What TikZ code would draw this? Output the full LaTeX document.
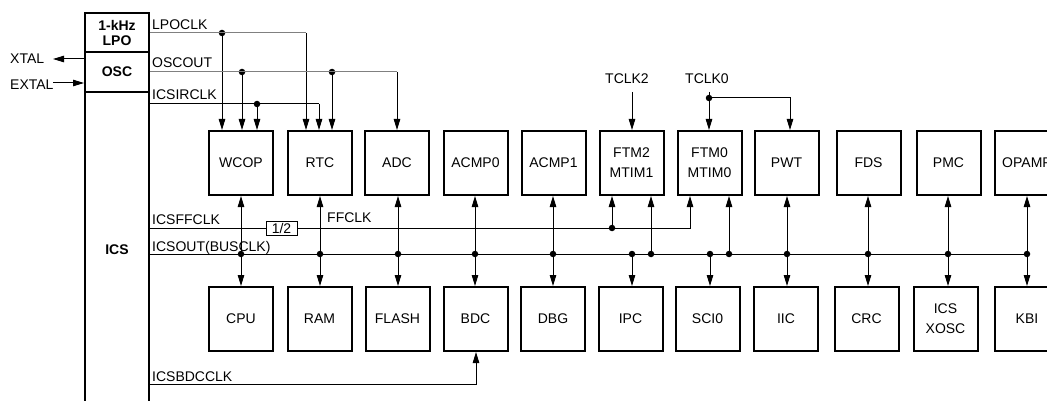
\documentclass[tikz,border=0pt]{standalone}
\usepackage{fontspec}
\setmainfont{Liberation Sans}
\usetikzlibrary{arrows.meta}
\begin{document}
\begin{tikzpicture}[x=1pt,y=-1pt,
  every node/.style={font=\fontsize{14}{20}\selectfont},
  blk/.style={draw, line width=2pt, minimum width=64pt, minimum height=64pt, inner sep=0pt, align=center},
  icsbox/.style={draw, line width=2pt, minimum width=64pt, inner sep=0pt, align=center, font=\fontsize{14}{15.6}\selectfont\bfseries},
  halfbox/.style={draw, line width=1pt, minimum width=31pt, minimum height=14pt, inner sep=0pt},
  lbl/.style={inner sep=0pt, anchor=base west},
  sig/.style={line width=1pt},
  gsig/.style={line width=1pt, draw=gray},
  arr/.style={-{Triangle[length=11pt,width=6.5pt]}},
  darr/.style={{Triangle[length=11pt,width=6.5pt]}-{Triangle[length=11pt,width=6.5pt]}},
  jdot/.style={circle, fill, inner sep=0pt, minimum size=6.5pt},
]
\useasboundingbox (0,0) rectangle (1047,401);
\clip (0,0) rectangle (1047,401);

% ICS column
\draw[line width=2pt] (85,401) -- (85,13) -- (149,13) -- (149,401);
\node[icsbox, minimum height=39pt] (lpo) at (117,33) {1-kHz\\LPO};
\node[icsbox, minimum height=40pt] (osc) at (117,72) {OSC};
\node[inner sep=0pt, font=\fontsize{14}{16}\selectfont\bfseries] (ics) at (117,250) {ICS};

% XTAL / EXTAL
\node[lbl] (xtal) at (10,64) {XTAL};
\node[lbl] (extal) at (10,90) {EXTAL};
\coordinate (xtalT) at (53,59);
\coordinate (extalS) at (53,83);
\draw[sig,arr] (osc.west |- xtalT) -- (xtalT);
\draw[sig,arr] (extalS) -- (osc.west |- extalS);

% top row
\node[blk] (wcop)  at (241,163)   {WCOP};
\node[blk] (rtc)   at (320,163)   {RTC};
\node[blk] (adc)   at (397,163)   {ADC};
\node[blk] (acmp0) at (475.5,163) {ACMP0};
\node[blk] (acmp1) at (553.5,163) {ACMP1};
\node[blk] (ftm2)  at (631.5,163) {FTM2\\MTIM1};
\node[blk] (ftm0)  at (709.5,163) {FTM0\\MTIM0};
\node[blk] (pwt)   at (786.5,163) {PWT};
\node[blk] (fds)   at (868.5,163) {FDS};
\node[blk] (pmc)   at (948.5,163) {PMC};
\node[blk] (opamp) at (1027,163)  {OPAMP};

% bottom row
\node[blk] (cpu)   at (241,319)   {CPU};
\node[blk] (ram)   at (319.5,319) {RAM};
\node[blk] (flash) at (397.5,319) {FLASH};
\node[blk] (bdc)   at (475.5,319) {BDC};
\node[blk] (dbg)   at (553,319)   {DBG};
\node[blk] (ipc)   at (630.5,319) {IPC};
\node[blk] (sci0)  at (707.5,319) {SCI0};
\node[blk] (iic)   at (786,319)   {IIC};
\node[blk] (crc)   at (866.5,319) {CRC};
\node[blk] (xosc)  at (945.5,319) {ICS\\XOSC};
\node[blk] (kbi)   at (1027,319)  {KBI};

% labels
\node[lbl] (lLPO) at (152,29.5) {LPOCLK};
\node[lbl] (lOSC) at (152,68) {OSCOUT};
\node[lbl] (lIRC) at (152,100) {ICSIRCLK};
\node[lbl] (lFF)  at (152,224) {ICSFFCLK};
\node[lbl] (lBUS) at (152,251) {ICSOUT(BUSCLK)};
\node[lbl] (lBDC) at (152,381) {ICSBDCCLK};
\node[lbl] (lFFC) at (327,222) {FFCLK};
\node[lbl] (tclk2) at (605,84) {TCLK2};
\node[lbl] (tclk0) at (685,84) {TCLK0};

% LPOCLK
\node[jdot] (d1) at (222,33) {};
\coordinate (lpoE) at (306,33);
\draw[gsig] (lpo.east) -- (lpoE);
\draw[sig,arr] (d1.center) -- (d1 |- wcop.north);
\draw[sig,arr] (lpoE) -- (lpoE |- rtc.north);

% OSCOUT
\node[jdot] (d2) at (242,72) {};
\node[jdot] (d3) at (332,72) {};
\coordinate (oscE) at (397,72);
\draw[gsig] (osc.east) -- (oscE);
\draw[sig,arr] (d2.center) -- (d2 |- wcop.north);
\draw[sig,arr] (d3.center) -- (d3 |- rtc.north);
\draw[sig,arr] (oscE) -- (oscE |- adc.north);

% ICSIRCLK
\coordinate (irc0) at (150,104);
\coordinate (ircE) at (319,104);
\node[jdot] (d4) at (257,104) {};
\draw[sig] (irc0) -- (ircE);
\draw[sig,arr] (d4.center) -- (d4 |- wcop.north);
\draw[sig,arr] (ircE) -- (ircE |- rtc.north);

% ICSFFCLK / FFCLK
\coordinate (ff0) at (150,228);
\node[halfbox] (half) at (281.5,228) {1/2};
\coordinate (ffE) at (690,228);
\node[jdot] (d5) at (612,228) {};
\draw[sig] (ff0) -- (half.west);
\draw[sig,arr] (half.east) -- (ffE) -- (ffE |- ftm0.south);
\draw[sig,arr] (d5.center) -- (d5 |- ftm2.south);

% ICSOUT (BUSCLK)
\coordinate (bus0) at (150,254);
\node[jdot] (b1)  at (241,254) {};
\node[jdot] (b2)  at (320,254) {};
\node[jdot] (b3)  at (398,254) {};
\node[jdot] (b4)  at (475,254) {};
\node[jdot] (b5)  at (553,254) {};
\node[jdot] (b6)  at (632,254) {};
\node[jdot] (b7)  at (651,254) {};
\node[jdot] (b8)  at (710,254) {};
\node[jdot] (b9)  at (729,254) {};
\node[jdot] (b10) at (787,254) {};
\node[jdot] (b11) at (868,254) {};
\node[jdot] (b12) at (948,254) {};
\node[jdot] (b13) at (1027,254) {};
\draw[sig] (bus0) -- (b13.center);
\draw[sig,darr] (b1 |- wcop.south) -- (b1 |- cpu.north);
\draw[sig,darr] (b2 |- rtc.south) -- (b2 |- ram.north);
\draw[sig,darr] (b3 |- adc.south) -- (b3 |- flash.north);
\draw[sig,darr] (b4 |- acmp0.south) -- (b4 |- bdc.north);
\draw[sig,darr] (b5 |- acmp1.south) -- (b5 |- dbg.north);
\draw[sig,arr] (b6.center) -- (b6 |- ipc.north);
\draw[sig,arr] (b7.center) -- (b7 |- ftm2.south);
\draw[sig,arr] (b8.center) -- (b8 |- sci0.north);
\draw[sig,arr] (b9.center) -- (b9 |- ftm0.south);
\draw[sig,darr] (b10 |- pwt.south) -- (b10 |- iic.north);
\draw[sig,darr] (b11 |- fds.south) -- (b11 |- crc.north);
\draw[sig,darr] (b12 |- pmc.south) -- (b12 |- xosc.north);
\draw[sig,darr] (b13 |- opamp.south) -- (b13 |- kbi.north);

% ICSBDCCLK
\coordinate (bdc0) at (150,384);
\coordinate (bdcC) at (476,384);
\draw[sig,arr] (bdc0) -- (bdcC) -- (bdcC |- bdc.south);

% TCLK2 / TCLK0
\coordinate (t2) at (632,92);
\draw[sig,arr] (t2) -- (t2 |- ftm2.north);
\coordinate (t0) at (709,92);
\node[jdot] (d6) at (709,98) {};
\coordinate (t0E) at (790,98);
\draw[sig] (t0) -- (d6.center);
\draw[sig,arr] (d6.center) -- (d6 |- ftm0.north);
\draw[sig,arr] (d6.center) -- (t0E) -- (t0E |- pwt.north);
\end{tikzpicture}
\end{document}
